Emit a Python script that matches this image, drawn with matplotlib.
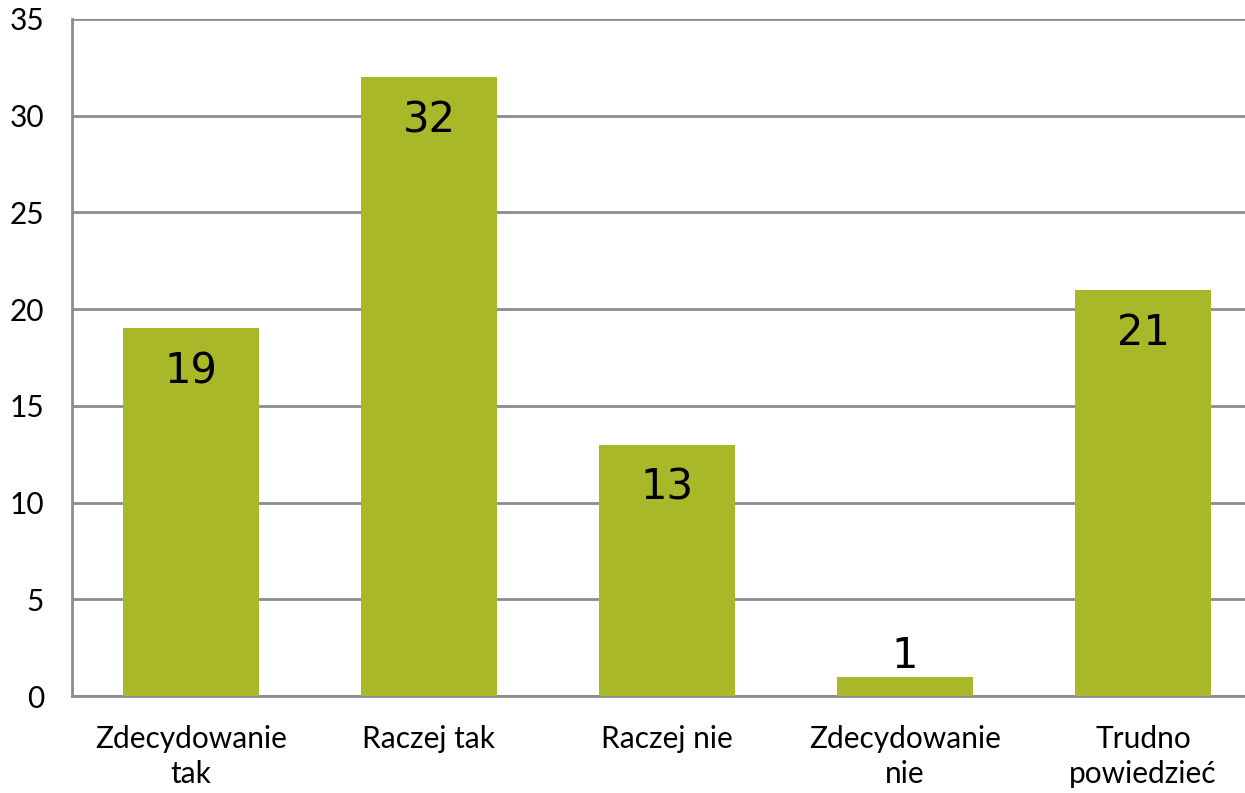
import matplotlib
matplotlib.use("Agg")
import matplotlib.pyplot as plt

categories = ["Zdecydowanie\ntak", "Raczej tak", "Raczej nie", "Zdecydowanie\nnie", "Trudno\npowiedzieć"]
values = [19, 32, 13, 1, 21]
yticks = [0, 5, 10, 15, 20, 25, 30, 35]

W, H = 1245, 793
fig = plt.figure(figsize=(W / 100, H / 100), dpi=100)
left, right, top, bottom = 72, 1262, 19, 696
ax = fig.add_axes([left / W, (H - bottom) / H, (right - left) / W, (bottom - top) / H])

green = "#A8B829"
grey = "#8C8C8C"
x = list(range(len(categories)))
bars = ax.bar(x, values, width=0.572, color=green, zorder=3)

ax.set_xlim(-0.5, len(categories) - 0.5)
ax.set_ylim(0, 35)
ax.set_yticks(yticks)
ax.set_yticklabels([str(t) for t in yticks])
ax.set_xticks(x)
ax.set_xticklabels(categories, linespacing=1.3)
ax.yaxis.grid(True, color=grey, linewidth=2, zorder=0)
ax.set_axisbelow(True)

for s in ["top", "right"]:
    ax.spines[s].set_visible(False)
for s in ["left", "bottom"]:
    ax.spines[s].set_color(grey)
    ax.spines[s].set_linewidth(2)

ax.tick_params(axis="both", length=0, labelsize=21.5, colors="black")
ax.tick_params(axis="y", pad=20)
ax.tick_params(axis="x", pad=21)
for lbl in ax.get_xticklabels() + ax.get_yticklabels():
    lbl.set_fontfamily("Lato")

for xi, v in zip(x, values):
    if v >= 3:
        ax.annotate(str(v), (xi, v), xytext=(0, -16), textcoords="offset points",
                    ha="center", va="top", fontsize=30, family="DejaVu Sans", zorder=4)
    else:
        ax.annotate(str(v), (xi, v), xytext=(0, 0), textcoords="offset points",
                    ha="center", va="bottom", fontsize=30, family="DejaVu Sans", zorder=4)

fig.savefig("out.png", dpi=100)
